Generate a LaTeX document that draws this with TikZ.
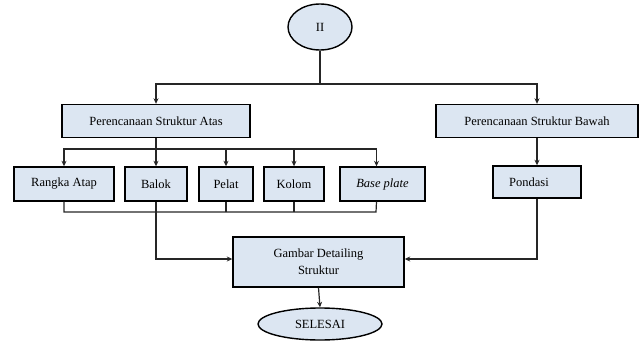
\documentclass[tikz,border=0pt]{standalone}
\usepackage{fontspec}
\setmainfont{Liberation Serif}
\usetikzlibrary{shapes.geometric,arrows.meta}
\definecolor{boxfill}{RGB}{220,230,242}
\begin{document}
\begin{tikzpicture}[x=1pt,y=-1pt,
  box/.style={draw=black,line width=1.4pt,fill=boxfill,rectangle,inner sep=2pt,font=\fontsize{12.5}{17}\selectfont,align=center},
  oval/.style={draw=black,line width=1.4pt,fill=boxfill,ellipse,inner sep=0pt,font=\fontsize{12.5}{15}\selectfont},
  conn/.style={line width=1.2pt,draw=black!85},
  arr/.style={conn,-{Stealth[length=5.5pt,width=5pt]}}]
\useasboundingbox (0,0) rectangle (642,342);
% nodes
\node[oval,minimum width=64pt,minimum height=46pt] (ii) at (320,27) {II};
\node[box,minimum width=188pt,minimum height=33pt] (atas) at (156,121) {Perencanaan Struktur Atas};
\node[box,minimum width=202pt,minimum height=33pt] (bawah) at (537,121) {Perencanaan Struktur Bawah};
\node[box,minimum width=100pt,minimum height=34pt] (rangka) at (64,184) {Rangka Atap};
\node[box,minimum width=62pt,minimum height=34pt] (balok) at (156,184) {Balok};
\node[box,minimum width=54pt,minimum height=34pt] (pelat) at (226,184) {Pelat};
\node[box,minimum width=60pt,minimum height=34pt] (kolom) at (294,184) {Kolom};
\node[box,minimum width=85pt,minimum height=34pt] (base) at (382.5,184) {\itshape Base plate};
\node[box,minimum width=88pt,minimum height=32pt] (pondasi) at (537,182) {Pondasi\hspace{16pt}};
\node[box,minimum width=171pt,minimum height=50pt] (gambar) at (318.5,262) {Gambar Detailing\\Struktur};
\node[oval,minimum width=124pt,minimum height=32pt] (selesai) at (320,324) {SELESAI};
% junctions
\coordinate (j1) at (320,84);
\coordinate (j2) at (156,149);
\coordinate (j3) at (376,212);
% top split
\draw[conn] (ii.south) -- (j1);
\draw[arr] (j1) -| (atas.north);
\draw[arr] (j1) -| (bawah.north);
% upper structure split
\draw[conn] (atas.south) -- (j2);
\draw[arr] (j2) -| (rangka.north);
\draw[arr] (j2) -- (balok.north);
\draw[arr] (j2) -| (pelat.north);
\draw[arr] (j2) -| (kolom.north);
\draw[arr] (j2) -| ([xshift=-6pt]base.north);
% gather under upper boxes
\draw[conn] (rangka.south) |- (j3) -- ([xshift=-6pt]base.south);
\draw[conn] (pelat.south) -- (pelat.south |- j3);
\draw[conn] (kolom.south) -- (kolom.south |- j3);
% to detailing
\draw[arr] (balok.south) |- ([yshift=3pt]gambar.west);
\draw[arr] (bawah.south) -- (pondasi.north);
\draw[arr] (pondasi.south) |- ([yshift=3pt]gambar.east);
\draw[arr] (gambar.south) -- (selesai.north);
\end{tikzpicture}
\end{document}
